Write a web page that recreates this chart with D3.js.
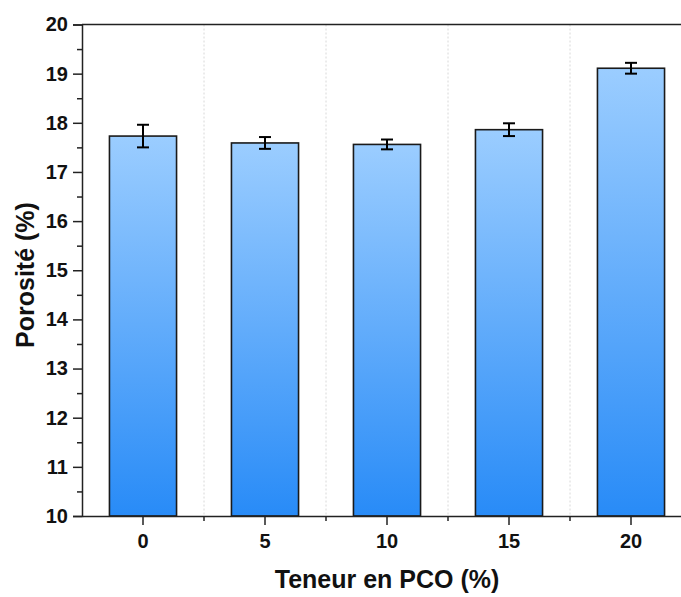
<!DOCTYPE html>
<html>
<head>
<meta charset="utf-8">
<script src="https://cdn.jsdelivr.net/npm/d3@7"></script>
<style>
  body { margin: 0; background: #fff; }
  svg { display: block; font-family: "Liberation Sans", Arial, sans-serif; }
</style>
</head>
<body>
<div id="chart"></div>
<script>
// PCO content categories and measured porosity
var categories = ["0", "5", "10", "15", "20"];
var porosity = [17.73, 17.59, 17.56, 17.86, 19.11];
var porosityErr = [0.23, 0.12, 0.10, 0.13, 0.11];
var yTicks = [10, 11, 12, 13, 14, 15, 16, 17, 18, 19, 20];

var width = 681, height = 597;
var plotLeft = 82, plotTop = 24.5, plotBottom = 516, plotRight = 692;

var svg = d3.select("#chart").append("svg")
    .attr("width", width)
    .attr("height", height);

var defs = svg.append("defs");
var grad = defs.append("linearGradient")
    .attr("id", "barGrad")
    .attr("x1", 0).attr("y1", 0).attr("x2", 0).attr("y2", 1);
grad.append("stop").attr("offset", "0%").attr("stop-color", "#9bcdff");
grad.append("stop").attr("offset", "100%").attr("stop-color", "#288bf7");

var x = d3.scaleBand()
    .domain(categories)
    .range([plotLeft, plotRight])
    .paddingInner(0.45)
    .paddingOuter(0.225);

var y = d3.scaleLinear()
    .domain([10, 20])
    .range([plotBottom, plotTop]);

// dotted separators between categories
var mids = categories.slice(1).map(function(c) {
    return x(c) - x.step() * x.paddingInner() / 2;
});
svg.append("g").selectAll("line")
    .data(mids)
    .enter().append("line")
    .attr("x1", function(d) { return d; })
    .attr("x2", function(d) { return d; })
    .attr("y1", plotTop)
    .attr("y2", plotBottom)
    .attr("stroke", "#d8d8d8")
    .attr("stroke-width", 1)
    .attr("stroke-dasharray", "2,2");

// bars
svg.append("g").selectAll("rect")
    .data(porosity)
    .enter().append("rect")
    .attr("x", function(d, i) { return x(categories[i]); })
    .attr("y", function(d) { return y(d); })
    .attr("width", x.bandwidth())
    .attr("height", function(d) { return y(10) - y(d); })
    .attr("fill", "url(#barGrad)")
    .attr("stroke", "#1a1a1a")
    .attr("stroke-width", 1.6);

// error bars
var eb = svg.append("g").attr("stroke", "#000").attr("stroke-width", 2);
porosity.forEach(function(v, i) {
    var cx = x(categories[i]) + x.bandwidth() / 2;
    var hi = y(v + porosityErr[i]), lo = y(v - porosityErr[i]);
    eb.append("line").attr("x1", cx).attr("x2", cx).attr("y1", hi).attr("y2", lo);
    eb.append("line").attr("x1", cx - 6).attr("x2", cx + 6).attr("y1", hi).attr("y2", hi);
    eb.append("line").attr("x1", cx - 6).attr("x2", cx + 6).attr("y1", lo).attr("y2", lo);
});

// y axis
svg.append("g")
    .attr("transform", "translate(" + plotLeft + ",0)")
    .call(d3.axisLeft(y).tickValues(yTicks).tickSize(9).tickPadding(5).tickFormat(d3.format("d")));
svg.append("g")
    .attr("transform", "translate(" + plotLeft + ",0)")
    .call(d3.axisLeft(y).tickValues(d3.range(10.5, 20, 1)).tickSize(5).tickFormat(""))
    .call(function(g) { g.select(".domain").remove(); });

// x axis
svg.append("g")
    .attr("transform", "translate(0," + plotBottom + ")")
    .call(d3.axisBottom(x).tickSize(9).tickPadding(9).tickSizeOuter(0));
svg.append("g").selectAll("line")
    .data(mids)
    .enter().append("line")
    .attr("x1", function(d) { return d; })
    .attr("x2", function(d) { return d; })
    .attr("y1", plotBottom)
    .attr("y2", plotBottom + 5)
    .attr("stroke", "#222")
    .attr("stroke-width", 1.5);

// top frame line
svg.append("line")
    .attr("x1", plotLeft).attr("x2", plotRight)
    .attr("y1", plotTop).attr("y2", plotTop)
    .attr("stroke", "#222").attr("stroke-width", 1.5);

svg.selectAll(".domain").attr("stroke", "#222").attr("stroke-width", 1.5);
svg.selectAll(".tick line").attr("stroke", "#222").attr("stroke-width", 1.5);
svg.selectAll(".tick text")
    .attr("font-family", "Liberation Sans, Arial, sans-serif")
    .attr("font-size", 20)
    .attr("font-weight", "bold")
    .attr("fill", "#111");

// axis titles
svg.append("text")
    .attr("x", 387)
    .attr("y", 588)
    .attr("text-anchor", "middle")
    .attr("font-size", 25)
    .attr("font-weight", "bold")
    .attr("fill", "#111")
    .text("Teneur en PCO (%)");

svg.append("text")
    .attr("transform", "translate(34,275) rotate(-90)")
    .attr("text-anchor", "middle")
    .attr("font-size", 25)
    .attr("font-weight", "bold")
    .attr("fill", "#111")
    .text("Porosité (%)");
</script>
</body>
</html>
